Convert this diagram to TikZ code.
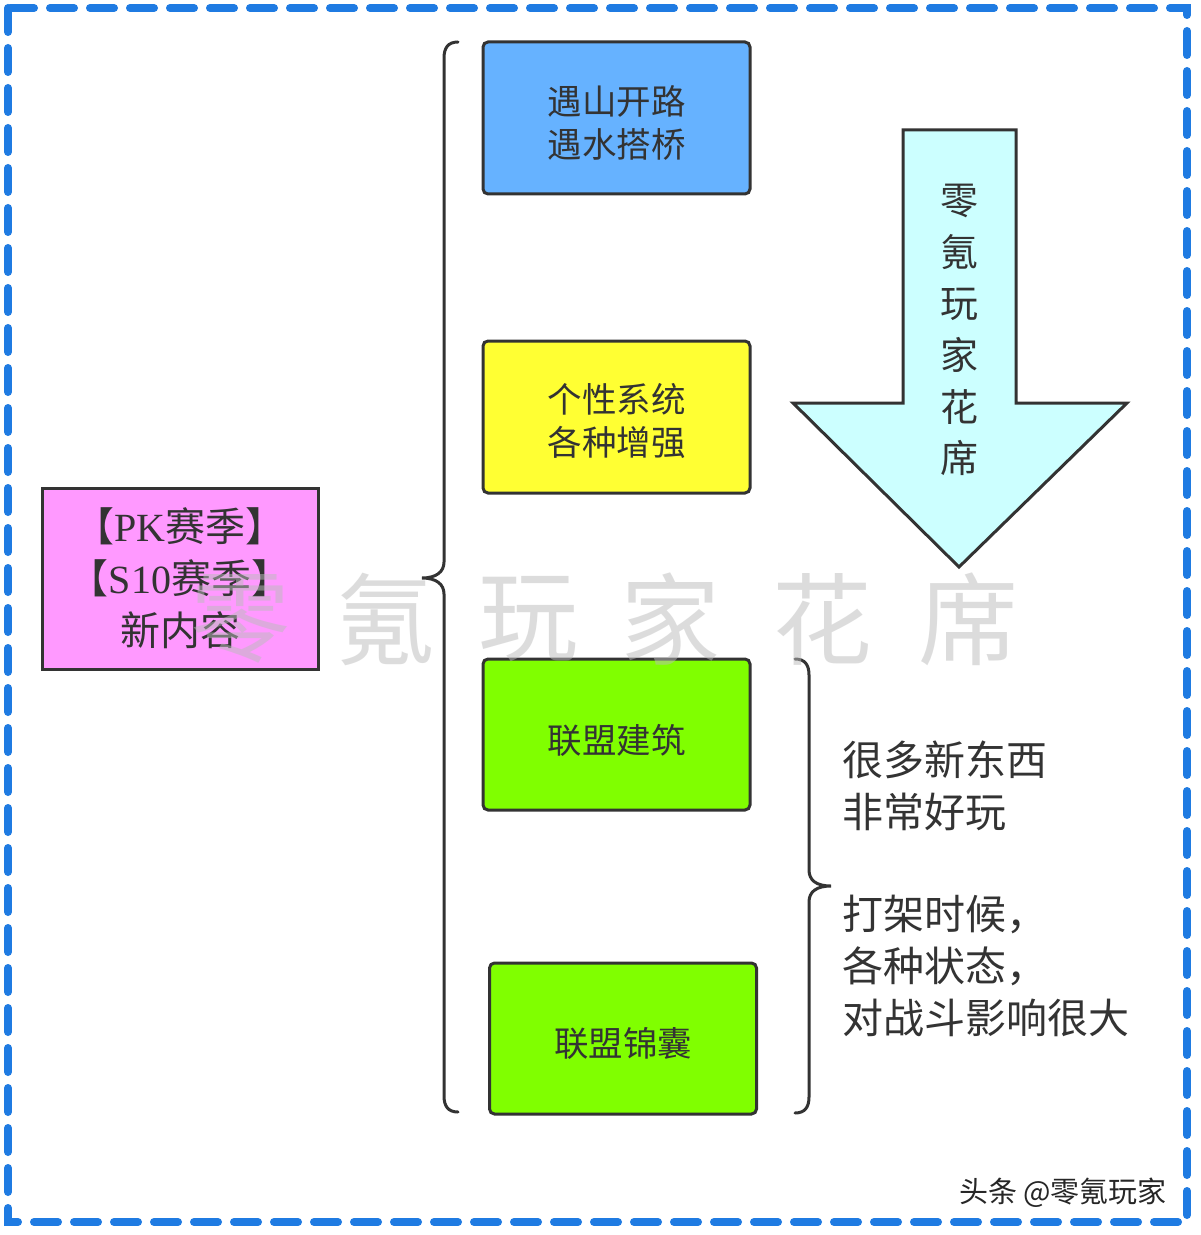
\documentclass[tikz,border=0pt]{standalone}
\usepackage{fontspec}
\setmainfont{Noto Sans CJK SC}
\newfontfamily\latserif{Liberation Serif}
\definecolor{ink}{HTML}{333333}
\definecolor{frameblue}{HTML}{1F7BE2}
\definecolor{boxblue}{HTML}{66B2FF}
\definecolor{boxyellow}{HTML}{FFFF33}
\definecolor{boxgreen}{HTML}{80FF00}
\definecolor{boxpink}{HTML}{FF99FF}
\definecolor{arrowcyan}{HTML}{CCFFFF}
\definecolor{wmgray}{HTML}{BBBBBB}
\begin{document}
\begin{tikzpicture}[x=0.5pt,y=-0.5pt,
  itembox/.style={draw=ink, line width=1.5pt, rounded corners=2.5pt, minimum width=133.5pt, minimum height=76pt, inner sep=0pt},
  itemtext/.style={text=ink, align=center, font=\fontsize{17.25pt}{21.5pt}\selectfont, inner sep=0pt},
  bracestyle/.style={draw=ink, line width=1.5pt, line cap=round},
  sidetext/.style={text=ink, align=left, anchor=west, inner sep=0pt, font=\fontsize{20.5pt}{26pt}\selectfont},
  wmchar/.style={text=wmgray, opacity=0.5, font=\fontsize{50pt}{50pt}\selectfont, inner sep=0pt}
]
\useasboundingbox (0,0) rectangle (1200,1235);
\fill[white] (0,0) rectangle (1200,1235);

% dashed frame
\draw[frameblue, line width=4pt, line cap=round, dash pattern=on 12pt off 8pt] (8,8) rectangle (1187,1222);

% left main box
\node[draw=ink, line width=1.5pt, fill=boxpink, minimum width=138pt, minimum height=90.5pt, text=ink, align=center, inner sep=0pt, font=\fontsize{20pt}{26pt}\selectfont] (season) at (180,578.5)
  {【{\latserif PK}赛季】\\【{\latserif S10}赛季】\\新内容};

% left brace
\coordinate (lbtop) at (458,42);
\coordinate (lbtip) at (422,578);
\coordinate (lbbot) at (458,1112);
\draw[bracestyle] (lbtop) .. controls (448,42) and (444,48) .. (444,58) -- (444,562)
  .. controls (444,572) and (436,578) .. (lbtip)
  .. controls (436,578) and (444,584) .. (444,594) -- (444,1096)
  .. controls (444,1106) and (448,1112) .. (lbbot);

% item boxes
\node[itembox, fill=boxblue] (road) at (616.5,118) {};
\node[itemtext] (roadtext) at ([yshift=-2.3pt]road.center) {遇山开路\\遇水搭桥};
\node[itembox, fill=boxyellow] (trait) at (616.5,417) {};
\node[itemtext] (traittext) at ([yshift=-2.1pt]trait.center) {个性系统\\各种增强};
\node[itembox, fill=boxgreen, minimum height=75.5pt] (build) at (616.5,734.5) {};
\node[itemtext] (buildtext) at ([yshift=-2.8pt]build.center) {联盟建筑};
\node[itembox, fill=boxgreen, minimum height=75.5pt] (kit) at (623,1038.5) {};
\node[itemtext] (kittext) at ([yshift=-2.4pt]kit.center) {联盟锦囊};

% right brace
\coordinate (rbtop) at (795,659);
\coordinate (rbtip) at (831,886);
\coordinate (rbbot) at (795,1113);
\draw[bracestyle] (rbtop) .. controls (805,659) and (809,665) .. (809,675) -- (809,870)
  .. controls (809,880) and (816,886) .. (rbtip)
  .. controls (816,886) and (809,892) .. (809,902) -- (809,1097)
  .. controls (809,1107) and (805,1113) .. (rbbot);

% side texts
\node[sidetext] (fun) at (842,786) {很多新东西\\非常好玩};
\node[sidetext] (fight) at (842,966) {打架时候，\\各种状态，\\对战斗影响很大};

% big arrow
\draw[draw=ink, line width=1.5pt, fill=arrowcyan, line join=miter]
  (903,130) -- (1016,130) -- (1016,403) -- (1127,403) -- (959,567) -- (793,403) -- (903,403) -- cycle;
\node[text=ink, align=center, inner sep=0pt, font=\fontsize{19pt}{25.8pt}\selectfont] (arrowtext) at (959,330)
  {零\\氪\\玩\\家\\花\\席};

% watermark
\node[wmchar] (wm1) at (240,619) {零};
\node[wmchar] (wm2) at (385,619) {氪};
\node[wmchar] (wm3) at (528,619) {玩};
\node[wmchar] (wm4) at (670,619) {家};
\node[wmchar] (wm5) at (822,619) {花};
\node[wmchar] (wm6) at (968,619) {席};

% credit
\node[text=black!85, inner sep=0pt, font=\fontsize{14.5pt}{16pt}\selectfont] (credit) at (1063,1193) {头条 @零氪玩家};
\end{tikzpicture}
\end{document}
